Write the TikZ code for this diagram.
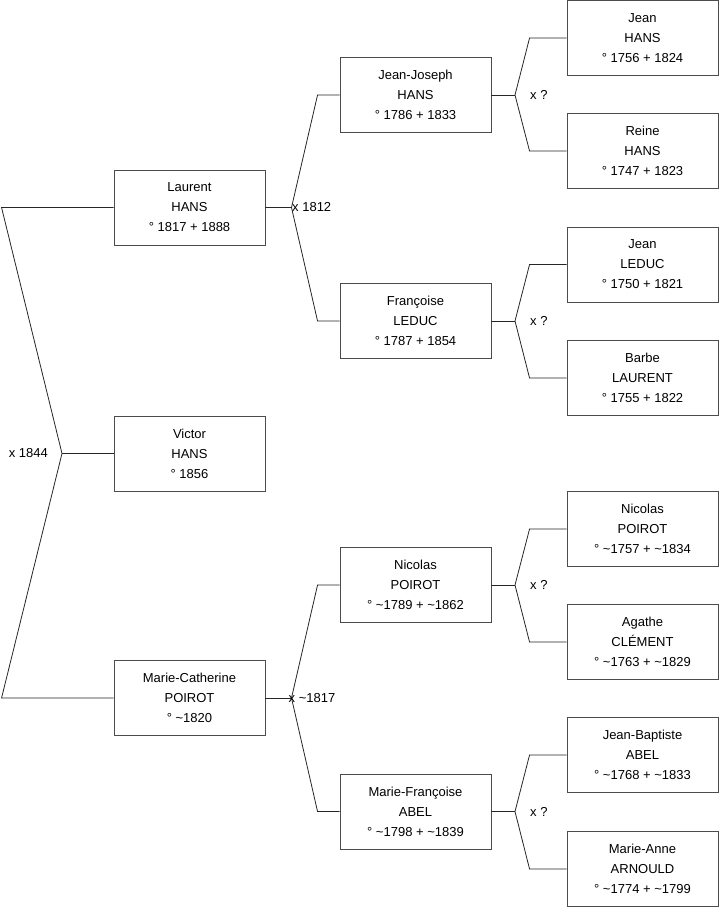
\documentclass[tikz,border=0pt]{standalone}
\usepackage{fontspec}
\setmainfont{Liberation Sans}
\usetikzlibrary{positioning}
\tikzstyle{person} = [rectangle, draw=black!70, line width=0.9pt, fill=white, minimum width=151pt, minimum height=75pt, align=center, inner sep=0pt, font=\fontsize{13}{20}\selectfont]
\tikzstyle{link} = [line width=0.8pt, black!85]

\begin{document}
\begin{tikzpicture}[x=1pt, y=-1pt,
    wed/.style={font=\fontsize{13}{15}\selectfont, inner sep=0pt}]
    \useasboundingbox (0,0) rectangle (719,908);

    % Child
    \node[person] (victor) at (189.5,453.5) {Victor\\HANS\\° 1856};

    % Parents
    \node[person] (laurent) at (189.5,207.5) {Laurent\\HANS\\° 1817 + 1888};
    \node[person] (mariecath) at (189.5,698) {Marie-Catherine\\POIROT\\° \textasciitilde1820};

    % Grandparents
    \node[person] (jeanjoseph) at (415.5,95) {Jean-Joseph\\HANS\\° 1786 + 1833};
    \node[person] (francoise) at (415.5,321) {Françoise\\LEDUC\\° 1787 + 1854};
    \node[person] (nicolas) at (415.5,585) {Nicolas\\POIROT\\° \textasciitilde1789 + \textasciitilde1862};
    \node[person] (mariefr) at (415.5,811.5) {Marie-Françoise\\ABEL\\° \textasciitilde1798 + \textasciitilde1839};

    % Great-grandparents
    \node[person] (jean) at (642.5,38) {Jean\\HANS\\° 1756 + 1824};
    \node[person] (reine) at (642.5,151) {Reine\\HANS\\° 1747 + 1823};
    \node[person] (jeanleduc) at (642.5,264.5) {Jean\\LEDUC\\° 1750 + 1821};
    \node[person] (barbe) at (642.5,378) {Barbe\\LAURENT\\° 1755 + 1822};
    \node[person] (nicolasp) at (642.5,529) {Nicolas\\POIROT\\° \textasciitilde1757 + \textasciitilde1834};
    \node[person] (agathe) at (642.5,642) {Agathe\\CLÉMENT\\° \textasciitilde1763 + \textasciitilde1829};
    \node[person] (jeanbapt) at (642.5,755) {Jean-Baptiste\\ABEL\\° \textasciitilde1768 + \textasciitilde1833};
    \node[person] (marieanne) at (642.5,869) {Marie-Anne\\ARNOULD\\° \textasciitilde1774 + \textasciitilde1799};

    % Marriage junctions
    \coordinate (jvictor) at (62,453.5);
    \coordinate (jlaurent) at (291.5,207.5);
    \coordinate (jmariecath) at (291.5,698);
    \coordinate (jjeanjoseph) at (515,95);
    \coordinate (jfrancoise) at (515,321);
    \coordinate (jnicolas) at (515,585);
    \coordinate (jmariefr) at (515,811.5);

    % Child to parents
    \draw[link] (victor.west) -- (jvictor);
    \draw[link] (jvictor) -- ([xshift=-112pt]laurent.west) -- (laurent.west);
    \draw[link] (jvictor) -- ([xshift=-112pt]mariecath.west) -- (mariecath.west);
    \node[wed, left=14pt of jvictor] (wvictor) {x 1844};

    % Parents to grandparents
    \draw[link] (laurent.east) -- (jlaurent);
    \draw[link] (jlaurent) -- ([xshift=-22pt]jeanjoseph.west) -- (jeanjoseph.west);
    \draw[link] (jlaurent) -- ([xshift=-22pt]francoise.west) -- (francoise.west);
    \node[wed, right=0.5pt of jlaurent] (wlaurent) {x 1812};

    \draw[link] (mariecath.east) -- (jmariecath);
    \draw[link] (jmariecath) -- ([xshift=-22pt]nicolas.west) -- (nicolas.west);
    \draw[link] (jmariecath) -- ([xshift=-22pt]mariefr.west) -- (mariefr.west);
    \node[wed, right=-3pt of jmariecath] (wmariecath) {x \textasciitilde1817};

    % Grandparents to great-grandparents
    \draw[link] (jeanjoseph.east) -- (jjeanjoseph);
    \draw[link] (jjeanjoseph) -- ([xshift=-37pt]jean.west) -- (jean.west);
    \draw[link] (jjeanjoseph) -- ([xshift=-37pt]reine.west) -- (reine.west);
    \node[wed, right=15pt of jjeanjoseph] (wjeanjoseph) {x ?};

    \draw[link] (francoise.east) -- (jfrancoise);
    \draw[link] (jfrancoise) -- ([xshift=-37pt]jeanleduc.west) -- (jeanleduc.west);
    \draw[link] (jfrancoise) -- ([xshift=-37pt]barbe.west) -- (barbe.west);
    \node[wed, right=15pt of jfrancoise] (wfrancoise) {x ?};

    \draw[link] (nicolas.east) -- (jnicolas);
    \draw[link] (jnicolas) -- ([xshift=-37pt]nicolasp.west) -- (nicolasp.west);
    \draw[link] (jnicolas) -- ([xshift=-37pt]agathe.west) -- (agathe.west);
    \node[wed, right=15pt of jnicolas] (wnicolas) {x ?};

    \draw[link] (mariefr.east) -- (jmariefr);
    \draw[link] (jmariefr) -- ([xshift=-37pt]jeanbapt.west) -- (jeanbapt.west);
    \draw[link] (jmariefr) -- ([xshift=-37pt]marieanne.west) -- (marieanne.west);
    \node[wed, right=15pt of jmariefr] (wmariefr) {x ?};

\end{tikzpicture}
\end{document}
